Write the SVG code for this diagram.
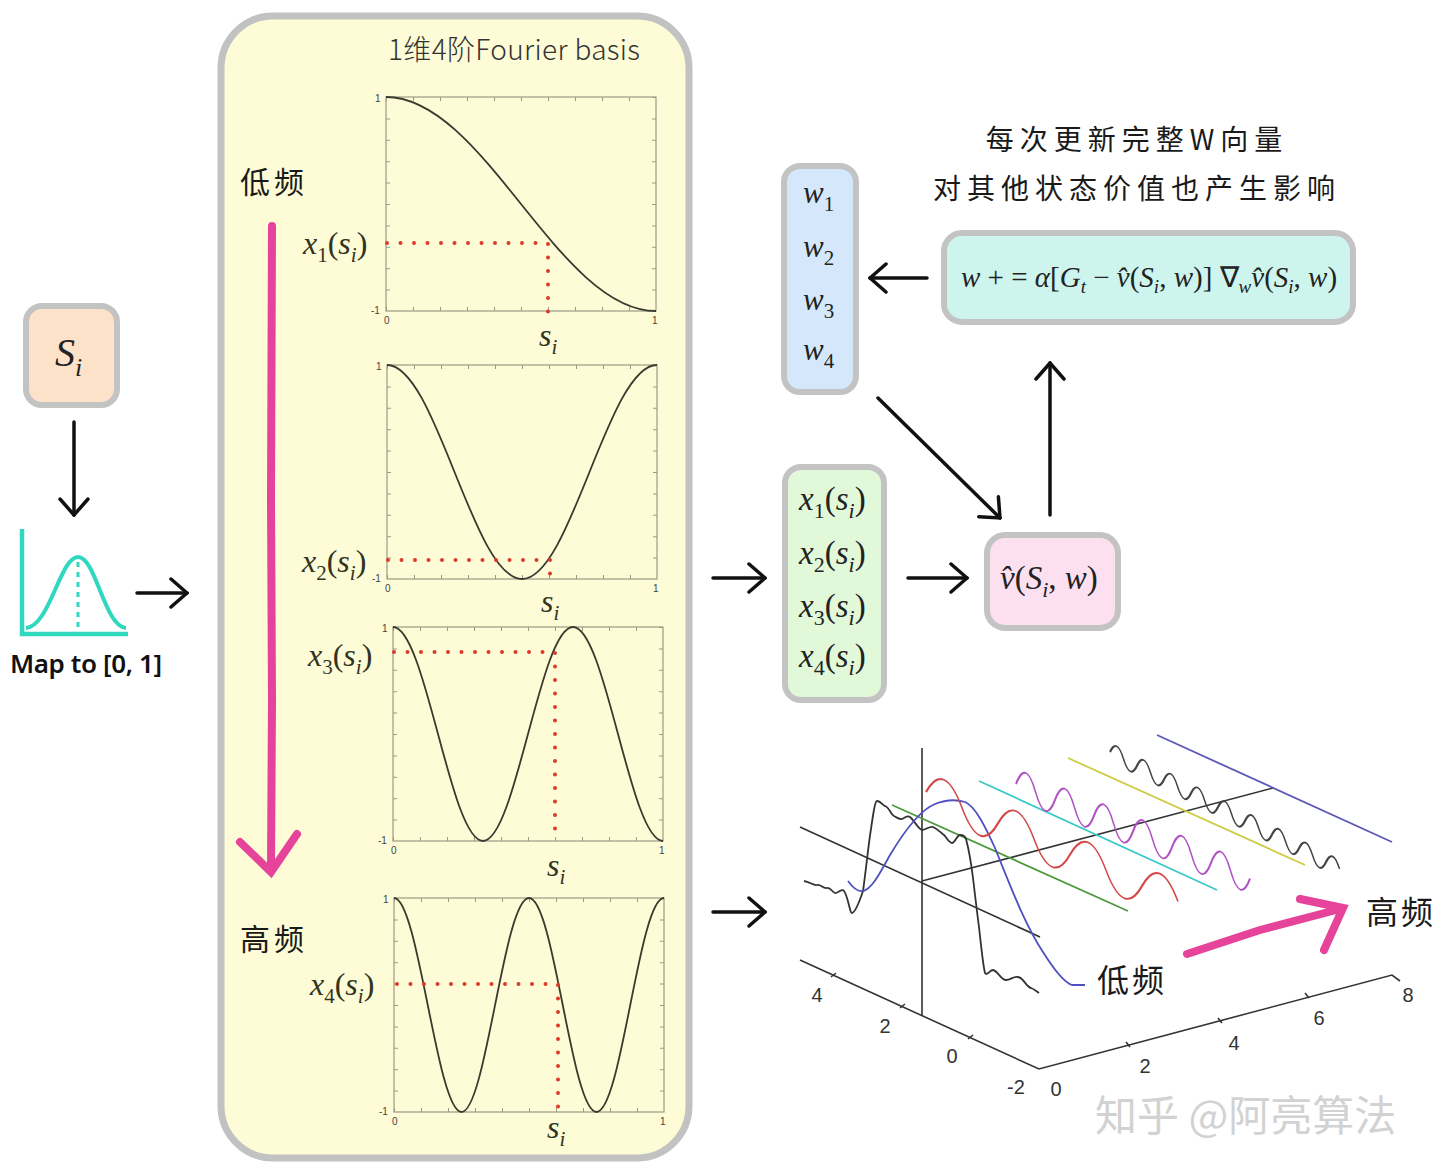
<svg xmlns="http://www.w3.org/2000/svg" width="1440" height="1174" viewBox="0 0 1440 1174">
<defs>
<style>
.box{stroke:#c3c3c3;stroke-width:6}
.math{font-family:"Liberation Serif",serif;fill:#222}
.it{font-style:italic}
.cjk{font-family:"Noto Sans CJK SC",sans-serif;fill:#1a1a1a}
.ink{fill:none;stroke:#111;stroke-width:3.5;stroke-linecap:round}
.pink{fill:none;stroke:#e6449b;stroke-width:8;stroke-linecap:round}
.frame{fill:none;stroke:#9a9a86;stroke-width:1.2}
.tick{fill:none;stroke:#9a9a86;stroke-width:4}
.tl{font-family:"Liberation Sans",sans-serif;font-size:10px;fill:#444}
.curve{fill:none;stroke:#3a3a30;stroke-width:1.8}
.dots{fill:none;stroke:#dd3a2c;stroke-width:4;stroke-linecap:round;stroke-dasharray:0 13.5}
.lbl{font-family:"Liberation Serif",serif;font-size:32px;fill:#333322}
.ax{fill:none;stroke:#333;stroke-width:1.6}
.wave{fill:none;stroke-width:1.8}
.num{font-family:"Liberation Sans",sans-serif;font-size:20px;fill:#333;text-anchor:middle}
</style>
<marker id="ah" viewBox="0 0 20 32" refX="18" refY="16" markerWidth="20" markerHeight="32" markerUnits="userSpaceOnUse" orient="auto">
<path d="M2 2 L18 16 L2 30" fill="none" stroke="#111" stroke-width="3.5" stroke-linecap="round"/>
</marker>
<g id="plotframe">
<rect class="frame" x="0" y="0" width="270" height="214"/>
<line class="tick" x1="0" y1="2" x2="270" y2="2" stroke-dasharray="1 26"/>
<line class="tick" x1="0" y1="212" x2="270" y2="212" stroke-dasharray="1 26"/>
<line class="tick" x1="2" y1="0" x2="2" y2="214" stroke-dasharray="1 20.4"/>
<line class="tick" x1="268" y1="0" x2="268" y2="214" stroke-dasharray="1 20.4"/>
<text class="tl" x="-11" y="5">1</text>
<text class="tl" x="-15" y="217">-1</text>
<text class="tl" x="-2" y="227">0</text>
<text class="tl" x="266" y="227">1</text>
</g>
</defs>
<rect width="1440" height="1174" fill="#ffffff"/>

<!-- Fourier panel -->
<g id="panel">
<rect x="221" y="16" width="468" height="1142" rx="52" fill="#fdfcd6" stroke="#c2c2c2" stroke-width="7"/>
<text x="388" y="60" font-family="Noto Sans CJK SC, sans-serif" font-weight="300" font-size="28" fill="#333" textLength="252">1维4阶Fourier basis</text>
<text class="cjk" x="240" y="193" font-size="30" letter-spacing="4">低频</text>
<text class="cjk" x="240" y="950" font-size="30" letter-spacing="4">高频</text>
<path class="pink" d="M272 226 L271 500 L272 700 L271 868"/>
<path class="pink" d="M240 842 L271 872 L297 834" stroke-width="7"/>
</g>

<g id="plot1">
<use href="#plotframe" x="386" y="97"/>
<path class="curve" d="M386 97 C484.1 97 557.9 311 656 311"/>
<path class="dots" d="M387 243 L548 243 L548 313"/>
<text class="lbl" x="303" y="254"><tspan class="it">x</tspan><tspan font-size="21" dy="8">1</tspan><tspan dy="-8">(</tspan><tspan class="it">s</tspan><tspan class="it" font-size="21" dy="8">i</tspan><tspan dy="-8">)</tspan></text>
<text class="lbl" x="539" y="346"><tspan class="it">s</tspan><tspan class="it" font-size="21" dy="8">i</tspan></text>
</g>

<g id="plot2">
<use href="#plotframe" x="387" y="365"/>
<path class="curve" d="M387 365 C436.1 365 472.9 579 522 579 S607.9 365 657 365"/>
<path class="dots" d="M388 560 L550 560 L550 574"/>
<text class="lbl" x="302" y="572"><tspan class="it">x</tspan><tspan font-size="21" dy="8">2</tspan><tspan dy="-8">(</tspan><tspan class="it">s</tspan><tspan class="it" font-size="21" dy="8">i</tspan><tspan dy="-8">)</tspan></text>
<text class="lbl" x="541" y="612"><tspan class="it">s</tspan><tspan class="it" font-size="21" dy="8">i</tspan></text>
</g>

<g id="plot3">
<use href="#plotframe" x="393" y="627"/>
<path class="curve" d="M393 627 C425.7 627 450.3 841 483 841 S540.3 627 573 627 S630.3 841 663 841"/>
<path class="dots" d="M394 652 L555 652 L555 835"/>
<text class="lbl" x="308" y="666"><tspan class="it">x</tspan><tspan font-size="21" dy="8">3</tspan><tspan dy="-8">(</tspan><tspan class="it">s</tspan><tspan class="it" font-size="21" dy="8">i</tspan><tspan dy="-8">)</tspan></text>
<text class="lbl" x="547" y="876"><tspan class="it">s</tspan><tspan class="it" font-size="21" dy="8">i</tspan></text>
</g>

<g id="plot4">
<use href="#plotframe" x="394" y="898"/>
<path class="curve" d="M394 898 C418.5 898 437 1112 461.5 1112 S504 898 529 898 S571.5 1112 596.5 1112 S639 898 664 898"/>
<path class="dots" d="M397 984 L558 984 L558 1110"/>
<text class="lbl" x="310" y="995"><tspan class="it">x</tspan><tspan font-size="21" dy="8">4</tspan><tspan dy="-8">(</tspan><tspan class="it">s</tspan><tspan class="it" font-size="21" dy="8">i</tspan><tspan dy="-8">)</tspan></text>
<text class="lbl" x="547" y="1138"><tspan class="it">s</tspan><tspan class="it" font-size="21" dy="8">i</tspan></text>
</g>

<!-- left state node -->
<g id="node-si">
<rect class="box" x="26" y="306" width="91" height="99" rx="16" fill="#fde2ca"/>
<text class="math" x="55" y="366" font-size="40"><tspan class="it">S</tspan><tspan class="it" font-size="26" dy="10">i</tspan></text>
</g>

<g id="node-map">
<path d="M22 529 L22 634 L128 634" fill="none" stroke="#2fd8be" stroke-width="4.5"/>
<path d="M26 628 C50 626 60 557 78 557 C96 557 104 626 126 628" fill="none" stroke="#2fd8be" stroke-width="4"/>
<line x1="78" y1="562" x2="78" y2="632" stroke="#2fd8be" stroke-width="3" stroke-dasharray="5 5"/>
<text x="10" y="673" font-family="Noto Sans, sans-serif" font-weight="600" font-size="26" fill="#111" textLength="152">Map to [0, 1]</text>
</g>

<!-- weight vector -->
<g id="node-w">
<rect class="box" x="784" y="166" width="72" height="226" rx="16" fill="#d5e8fb"/>
<text class="math" x="803" y="203" font-size="31"><tspan class="it">w</tspan><tspan font-size="21" dy="8">1</tspan></text>
<text class="math" x="803" y="257" font-size="31"><tspan class="it">w</tspan><tspan font-size="21" dy="8">2</tspan></text>
<text class="math" x="803" y="310" font-size="31"><tspan class="it">w</tspan><tspan font-size="21" dy="8">3</tspan></text>
<text class="math" x="803" y="360" font-size="31"><tspan class="it">w</tspan><tspan font-size="21" dy="8">4</tspan></text>
</g>

<g id="node-caption">
<text class="cjk" x="1137" y="150" font-size="28" letter-spacing="6" text-anchor="middle">每次更新完整W向量</text>
<text class="cjk" x="1137" y="199" font-size="28" letter-spacing="6" text-anchor="middle">对其他状态价值也产生影响</text>
</g>

<g id="node-update">
<rect class="box" x="944" y="233" width="409" height="89" rx="18" fill="#cdf5ee"/>
<text class="math" x="961" y="287" font-size="29" fill="#1f3a36"><tspan class="it">w</tspan> + = <tspan class="it">α</tspan>[<tspan class="it">G</tspan><tspan class="it" font-size="19" dy="6">t</tspan><tspan dy="-6"> − </tspan><tspan class="it">v̂</tspan>(<tspan class="it">S</tspan><tspan class="it" font-size="19" dy="6">i</tspan><tspan dy="-6">, </tspan><tspan class="it">w</tspan>)] ∇<tspan class="it" font-size="19" dy="6">w</tspan><tspan class="it" dy="-6">v̂</tspan>(<tspan class="it">S</tspan><tspan class="it" font-size="19" dy="6">i</tspan><tspan dy="-6">, </tspan><tspan class="it">w</tspan>)</text>
</g>

<g id="node-x">
<rect class="box" x="785" y="467" width="99" height="233" rx="16" fill="#e1f8d9"/>
<text class="math" x="799" y="510" font-size="33"><tspan class="it">x</tspan><tspan font-size="22" dy="8">1</tspan><tspan dy="-8">(</tspan><tspan class="it">s</tspan><tspan class="it" font-size="22" dy="8">i</tspan><tspan dy="-8">)</tspan></text>
<text class="math" x="799" y="564" font-size="33"><tspan class="it">x</tspan><tspan font-size="22" dy="8">2</tspan><tspan dy="-8">(</tspan><tspan class="it">s</tspan><tspan class="it" font-size="22" dy="8">i</tspan><tspan dy="-8">)</tspan></text>
<text class="math" x="799" y="617" font-size="33"><tspan class="it">x</tspan><tspan font-size="22" dy="8">3</tspan><tspan dy="-8">(</tspan><tspan class="it">s</tspan><tspan class="it" font-size="22" dy="8">i</tspan><tspan dy="-8">)</tspan></text>
<text class="math" x="799" y="667" font-size="33"><tspan class="it">x</tspan><tspan font-size="22" dy="8">4</tspan><tspan dy="-8">(</tspan><tspan class="it">s</tspan><tspan class="it" font-size="22" dy="8">i</tspan><tspan dy="-8">)</tspan></text>
</g>

<g id="node-v">
<rect class="box" x="987" y="535" width="131" height="93" rx="18" fill="#fde0ef"/>
<text class="math" x="1000" y="589" font-size="33"><tspan class="it">v̂</tspan>(<tspan class="it">S</tspan><tspan class="it" font-size="22" dy="8">i</tspan><tspan dy="-8">, </tspan><tspan class="it">w</tspan>)</text>
</g>

<!-- 3D frequency plot -->
<g id="plot3d">
<line class="ax" x1="922" y1="748" x2="922" y2="1016"/>
<path class="ax" d="M800 960 L1039 1069 L1392 975 L1400 981"/>
<path class="ax" d="M831 977 l5 -4 M900 1008 l5 -4 M968 1039 l5 -4 M1130 1047 l-4 -5 M1222 1023 l-4 -5 M1309 998 l-4 -5"/>
<line class="ax" x1="800" y1="827" x2="1040" y2="937"/>
<line class="ax" x1="922" y1="881" x2="1273" y2="788"/>
<line class="wave" stroke="#4d9a3c" x1="892" y1="805" x2="1128" y2="911"/>
<line class="wave" stroke="#3cc8c8" x1="979" y1="781" x2="1217" y2="890"/>
<line class="wave" stroke="#cccc44" x1="1068" y1="758" x2="1305" y2="865"/>
<line class="wave" stroke="#5a58b8" x1="1157" y1="735" x2="1392" y2="842"/>
<path class="wave" stroke="#333" stroke-linejoin="round" d="M804 881 C810 882 814 886 817 885 C821 884 823 889 827 888 C831 887 833 894 836 893 C840 892 842 888 844 891 C848 896 850 914 852 913 C856 912 860 900 863 891 C866 870 869 840 871 829 C873 815 875 801 877 801 C881 801 883 806 885 806 C889 807 891 815 894 816 C898 818 900 820 902 819 C906 817 908 815 910 817 C915 821 919 831 923 830 C927 829 930 826 933 827 C938 829 941 833 944 835 C947 838 949 843 952 843 C955 843 957 835 960 835 C963 835 965 836 966 839 C969 850 971 862 973 878 C975 895 977 912 979 927 C981 945 983 965 985 973 C987 976 990 970 993 970 C998 971 1001 980 1006 980 C1011 980 1013 976 1018 977 C1024 978 1026 987 1031 988 C1034 989 1036 991 1039 993"/>
<path class="wave" stroke="#5050c0" d="M848 881 C853 888 858 892 863 891 C872 889 880 873 890 855 C905 830 920 810 935 804 C945 800 955 799 965 802 C975 806 985 826 995 848 C1010 885 1025 925 1043 952 C1053 968 1063 982 1072 985 L1085 985"/>
<g transform="translate(926 792) skewY(23.5)">
<path class="wave" stroke="#d44848" d="M0 0 Q18 -40 36 0 T72 0 T108 0 T144 0 T180 0 T216 0 T252 0"/>
</g>
<g transform="translate(1016 784) skewY(22)">
<path class="wave" stroke="#b052c4" d="M0 0 Q9.75 -30 19.5 0 T39 0 T58.5 0 T78 0 T97.5 0 T117 0 T136.5 0 T156 0 T175.5 0 T195 0 T214.5 0 T234 0"/>
</g>
<g transform="translate(1110 752) skewY(27)">
<path class="wave" stroke="#444" d="M0 0 Q6.75 -18 13.5 0 T27 0 T40.5 0 T54 0 T67.5 0 T81 0 T94.5 0 T108 0 T121.5 0 T135 0 T148.5 0 T162 0 T175.5 0 T189 0 T202.5 0 T216 0 T229.5 0"/>
</g>
<text class="num" x="817" y="1002">4</text>
<text class="num" x="885" y="1033">2</text>
<text class="num" x="952" y="1063">0</text>
<text class="num" x="1016" y="1094">-2</text>
<text class="num" x="1056" y="1096">0</text>
<text class="num" x="1145" y="1073">2</text>
<text class="num" x="1234" y="1050">4</text>
<text class="num" x="1319" y="1025">6</text>
<text class="num" x="1408" y="1002">8</text>
<text class="cjk" x="1097" y="992" font-size="32" letter-spacing="3">低频</text>
<text class="cjk" x="1366" y="924" font-size="32" letter-spacing="3">高频</text>
<path class="pink" d="M1187 954 L1260 930 L1340 909"/>
<path class="pink" d="M1300 899 L1343 908 L1324 950" stroke-width="7"/>
</g>

<g id="watermark">
<text x="1095" y="1131" font-family="Noto Sans CJK SC, sans-serif" font-size="42" fill="#d2d2d2">知乎 @阿亮算法</text>
</g>

<!-- connectors -->
<g id="connectors">
<line class="ink" x1="74" y1="422" x2="74" y2="515" marker-end="url(#ah)"/>
<line class="ink" x1="137" y1="593" x2="187" y2="593" marker-end="url(#ah)"/>
<line class="ink" x1="713" y1="578" x2="765" y2="578" marker-end="url(#ah)"/>
<line class="ink" x1="908" y1="578" x2="967" y2="578" marker-end="url(#ah)"/>
<line class="ink" x1="713" y1="912" x2="765" y2="912" marker-end="url(#ah)"/>
<line class="ink" x1="927" y1="278" x2="870" y2="278" marker-end="url(#ah)"/>
<line class="ink" x1="878" y1="398" x2="1000" y2="518" marker-end="url(#ah)"/>
<line class="ink" x1="1050" y1="515" x2="1050" y2="363" marker-end="url(#ah)"/>
</g>
</svg>
